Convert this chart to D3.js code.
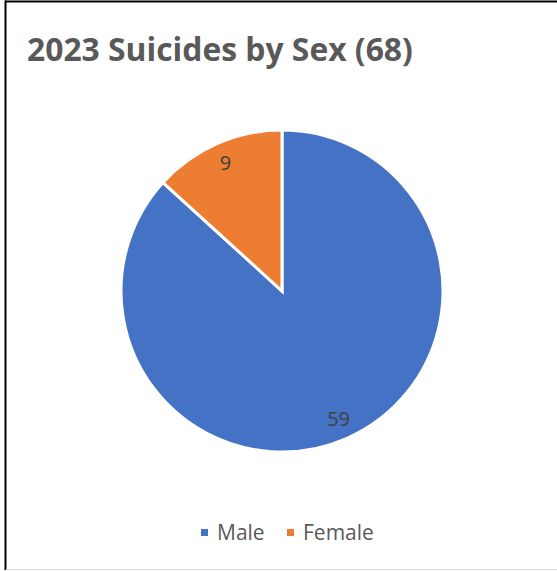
<!DOCTYPE html>
<html>
<head>
<meta charset="utf-8">
<script src="https://cdn.jsdelivr.net/npm/d3@7"></script>
<style>
  body { margin: 0; background: #fff; }
  svg { display: block; }
</style>
</head>
<body>
<svg id="drawing_region"></svg>
<script>
const title = '2023 Suicides by Sex (68)';
const categories = ['Male', 'Female'];
const values = [59, 9];
const colors = ['#4472C4', '#ED7D31'];

const config = {
    parent: '#drawing_region',
    width: 557,
    height: 571,
    cx: 282,
    cy: 291,
    radius: 161
};

const data = categories.map((c, i) => ({ label: c, value: values[i] }));

const svg = d3.select(config.parent)
    .attr('width', config.width)
    .attr('height', config.height);

// frame (top + left dark, bottom light)
svg.append('line').attr('x1', 5).attr('x2', 557).attr('y1', 1.5).attr('y2', 1.5)
    .attr('stroke', '#000').attr('stroke-width', 2);
svg.append('line').attr('x1', 5.5).attr('x2', 5.5).attr('y1', 0.5).attr('y2', 570)
    .attr('stroke', '#000').attr('stroke-width', 2);
svg.append('line').attr('x1', 6).attr('x2', 557).attr('y1', 569.5).attr('y2', 569.5)
    .attr('stroke', '#d9d9d9').attr('stroke-width', 1);

// title, sized to span the same width as the original
const titleText = svg.append('text')
    .attr('x', 27)
    .attr('y', 61)
    .attr('fill', '#595959')
    .style('font-family', '"Open Sans", "Noto Sans", sans-serif')
    .style('font-weight', 'bold')
    .style('font-size', '32px')
    .text(title);
const tw = titleText.node().getComputedTextLength();
titleText.style('font-size', (32 * 386 / tw) + 'px');

const color = d3.scaleOrdinal().domain(categories).range(colors);

const pie = d3.pie().sort(null).value(d => d.value);
const arc = d3.arc().innerRadius(0).outerRadius(config.radius);
const labelArc = d3.arc().innerRadius(config.radius * 0.87).outerRadius(config.radius * 0.87);

const g = svg.append('g')
    .attr('transform', `translate(${config.cx}, ${config.cy})`);

const arcs = pie(data);

g.selectAll('path')
    .data(arcs)
    .enter()
    .append('path')
    .attr('d', arc)
    .attr('fill', d => color(d.data.label))
    .attr('stroke', '#fff')
    .style('stroke-width', '3px');

g.selectAll('text')
    .data(arcs)
    .enter()
    .append('text')
    .text(d => d.data.value)
    .attr('transform', d => `translate(${labelArc.centroid(d)})`)
    .attr('dy', '0.35em')
    .attr('fill', '#404040')
    .style('text-anchor', 'middle')
    .style('font-family', '"Open Sans", "Noto Sans", sans-serif')
    .style('font-size', '20px');

// legend
const legendX = [201, 287];
const legend = svg.append('g');
const items = legend.selectAll('g')
    .data(categories)
    .enter()
    .append('g')
    .attr('transform', (d, i) => `translate(${legendX[i]}, 529)`);
items.append('rect')
    .attr('width', 7).attr('height', 7)
    .attr('fill', d => color(d));
items.append('text')
    .attr('x', 16)
    .attr('y', 11)
    .attr('fill', '#595959')
    .style('font-family', '"Open Sans", "Noto Sans", sans-serif')
    .style('font-size', '21px')
    .text(d => d);
</script>
</body>
</html>
